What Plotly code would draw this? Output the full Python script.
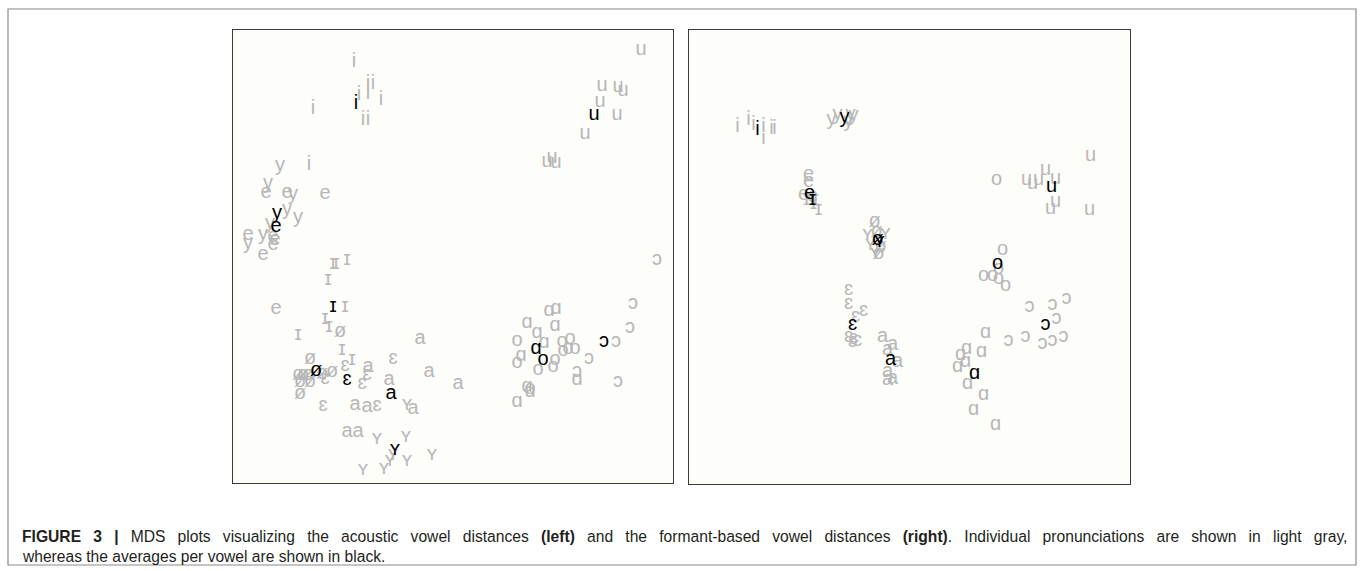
import plotly.graph_objects as go

W, H = 1360, 571

# ---------------- Left panel: acoustic vowel distances (MDS) ----------------
left_labels = (["i"] * 10 + ["u"] * 10 + ["y"] * 8 + ["e"] * 9 + ["ɪ"] * 10 +
               ["ø"] * 10 + ["ɛ"] * 7 + ["a"] * 10 + ["ʏ"] * 9 + ["ɑ"] * 11 +
               ["o"] * 11 + ["ɔ"] * 7)
left_x = [-0.99, -0.85, -0.80, -0.94, -0.85, -0.72, -1.40, -0.90, -0.85, -1.44,
          1.88, 1.49, 1.65, 1.70, 1.47, 1.64, 1.32, 0.94, 0.99, 1.03,
          -1.73, -1.85, -1.60, -1.66, -1.55, -1.90, -2.05, -1.83,
          -1.87, -1.66, -1.28, -2.05, -1.80, -1.78, -1.80, -1.90, -1.77,
          -1.20, -1.17, -1.06, -1.25, -1.08, -1.28, -1.24, -1.55, -1.11, -1.01,
          -1.13, -1.43, -1.55, -1.50, -1.45, -1.53, -1.43, -1.53, -1.21, -1.31,
          -0.60, -1.28, -1.08, -0.86, -0.91, -1.30, -0.76,
          -0.33, -0.85, -0.64, -0.24, 0.05, -0.98, -0.86, -0.40, -1.06, -0.95,
          -0.46, -0.76, -0.47, -0.60, -0.46, -0.21, -0.90, -0.69, -0.63,
          0.96, 1.03, 0.74, 1.02, 0.84, 0.91, 0.68, 1.24, 0.74, 0.77, 0.64,
          0.64, 1.09, 1.17, 1.10, 1.15, 1.22, 0.64, 1.02, 1.00, 0.85, 0.77,
          2.04, 1.80, 1.77, 1.63, 1.36, 1.24, 1.65]
left_y = [1.96, 1.74, 1.74, 1.63, 1.64, 1.58, 1.49, 1.38, 1.38, 0.93,
          2.08, 1.72, 1.71, 1.67, 1.56, 1.43, 1.24, 0.96, 1.00, 0.95,
          0.92, 0.74, 0.63, 0.48, 0.40, 0.23, 0.14, 0.34,
          0.65, 0.65, 0.64, 0.23, 0.21, 0.18, 0.13, 0.03, -0.51,
          -0.06, -0.06, -0.02, -0.22, -0.49, -0.61, -0.69, -0.77, -0.92, -1.02,
          -0.74, -1.01, -1.17, -1.17, -1.17, -1.24, -1.24, -1.36, -1.14, -1.16,
          -1.01, -1.21, -1.08, -1.17, -1.26, -1.48, -1.48,
          -0.81, -1.09, -1.22, -1.14, -1.26, -1.47, -1.49, -1.51, -1.74, -1.74,
          -1.47, -1.81, -1.79, -1.97, -2.03, -1.97, -2.12, -2.11, -2.03,
          -0.53, -0.51, -0.65, -0.68, -0.75, -0.85, -0.98, -1.22, -1.29, -1.34, -1.44,
          -0.83, -0.84, -0.81, -0.93, -0.91, -0.91, -1.05, -1.02, -1.09, -1.12, -1.31,
          -0.02, -0.46, -0.70, -0.84, -1.01, -1.14, -1.24]

left_mean_labels = ["i", "u", "y", "e", "ɪ", "ø", "ɛ", "a", "ʏ", "ɑ", "o", "ɔ"]
left_mean_x = [-0.97, 1.41, -1.76, -1.77, -1.20, -1.37, -1.06, -0.62, -0.58, 0.83, 0.90, 1.51]
left_mean_y = [1.54, 1.43, 0.44, 0.31, -0.49, -1.13, -1.22, -1.36, -1.92, -0.91, -1.02, -0.84]

# ---------------- Right panel: formant-based vowel distances (MDS) ----------------
right_labels = (["i"] * 7 + ["y"] * 5 + ["e"] * 4 + ["ɪ"] * 4 + ["ø"] * 4 +
                ["ʏ"] * 4 + ["u"] * 9 + ["o"] * 7 + ["ɔ"] * 9 + ["ɑ"] * 10 +
                ["ɛ"] * 8 + ["a"] * 7)
right_x = [-1.72, -1.61, -1.56, -1.46, -1.46, -1.38, -1.35,
           -0.78, -0.72, -0.59, -0.56, -0.61,
           -1.01, -1.01, -1.06, -0.97,
           -0.94, -0.91, -0.96, -1.03,
           -0.35, -0.29, -0.33, -0.31,
           -0.42, -0.24, -0.34, -0.39,
           1.81, 1.17, 1.23, 1.29, 1.36, 1.46, 1.46, 1.41, 1.80,
           0.87, 0.93, 0.89, 0.74, 0.83, 0.89, 0.96,
           1.20, 1.43, 1.57, 1.47, 0.99, 1.16, 1.33, 1.43, 1.54,
           0.76, 0.57, 0.72, 0.51, 0.56, 0.48, 0.58, 0.74, 0.64, 0.86,
           -0.61, -0.61, -0.46, -0.54, -0.61, -0.56, -0.57, -0.52,
           -0.27, -0.17, -0.22, -0.12, -0.22, -0.17, -0.22]
right_y = [1.32, 1.39, 1.34, 1.32, 1.20, 1.30, 1.30,
           1.39, 1.44, 1.44, 1.43, 1.37,
           0.84, 0.77, 0.64, 0.62,
           0.59, 0.49, 0.55, 0.59,
           0.37, 0.12, 0.27, 0.05,
           0.24, 0.25, 0.05, 0.14,
           1.03, 0.79, 0.75, 0.79, 0.89, 0.80, 0.57, 0.50, 0.49,
           0.79, 0.09, -0.10, -0.17, -0.17, -0.20, -0.27,
           -0.48, -0.46, -0.40, -0.60, -0.82, -0.78, -0.85, -0.82, -0.78,
           -0.74, -0.90, -0.93, -0.96, -1.03, -1.08, -1.25, -1.36, -1.51, -1.66,
           -0.31, -0.45, -0.52, -0.58, -0.78, -0.80, -0.83, -0.82,
           -0.78, -0.86, -0.91, -1.03, -1.13, -1.20, -1.21]

right_mean_labels = ["i", "y", "e", "ɪ", "ø", "ʏ", "u", "o", "ɔ", "ɑ", "ɛ", "a"]
right_mean_x = [-1.52, -0.65, -1.00, -0.97, -0.32, -0.30, 1.42, 0.88, 1.36, 0.65, -0.57, -0.19]
right_mean_y = [1.29, 1.41, 0.65, 0.59, 0.19, 0.17, 0.72, -0.05, -0.66, -1.15, -0.66, -1.01]

caption_line1_words = ["<b>FIGURE</b>", "<b>3</b>", "<b>|</b>", "MDS", "plots", "visualizing",
                       "the", "acoustic", "vowel", "distances", "<b>(left)</b>", "and", "the",
                       "formant-based", "vowel", "distances", "<b>(right)</b>.", "Individual",
                       "pronunciations", "are", "shown", "in", "light", "gray,"]
caption_line2 = "whereas the averages per vowel are shown in black."

GRAY = "#b7b7b7"
FONT = "Liberation Sans"
FS = 20

fig = go.Figure()

def add_panel(xs, ys, labels, mx, my, mlabels, xa, ya):
    fig.add_trace(go.Scatter(x=xs, y=ys, text=labels, mode="text",
                             textposition="middle center",
                             textfont=dict(family=FONT, size=FS, color=GRAY),
                             xaxis=xa, yaxis=ya, hoverinfo="skip", showlegend=False))
    fig.add_trace(go.Scatter(x=mx, y=my, text=mlabels, mode="text",
                             textposition="middle center",
                             textfont=dict(family=FONT, size=FS, color="#000000"),
                             xaxis=xa, yaxis=ya, hoverinfo="skip", showlegend=False))

add_panel(left_x, left_y, left_labels, left_mean_x, left_mean_y, left_mean_labels, "x", "y")
add_panel(right_x, right_y, right_labels, right_mean_x, right_mean_y, right_mean_labels, "x2", "y2")

ax_common = dict(showgrid=False, zeroline=False, showticklabels=False, ticks="",
                 showline=True, mirror=True, linecolor="#3a3a3a", linewidth=1.2,
                 fixedrange=True)

fig.update_layout(
    width=W, height=H,
    margin=dict(l=0, r=0, t=0, b=0),
    paper_bgcolor="white",
    plot_bgcolor="#fdfdf9",
    xaxis=dict(domain=[233 / W, 673 / W], range=[-2.20, 2.20], **ax_common),
    yaxis=dict(domain=[1 - 483 / H, 1 - 30 / H], range=[-2.25, 2.28], **ax_common),
    xaxis2=dict(domain=[689 / W, 1130 / W], range=[-2.205, 2.205], anchor="y2", **ax_common),
    yaxis2=dict(domain=[1 - 484 / H, 1 - 30 / H], range=[-2.25, 2.29], anchor="x2", **ax_common),
)

# outer frame around the whole figure
fig.add_shape(type="rect", xref="paper", yref="paper",
              x0=8 / W, x1=1356 / W, y0=1 - 565 / H, y1=1 - 9 / H,
              line=dict(color="#8a8a8a", width=1.2), fillcolor="rgba(0,0,0,0)", layer="below")

# caption: first line justified (widened word gaps), second line ragged
JUSTIFY_GAP = "\u2002 "
caption_line1 = JUSTIFY_GAP.join(caption_line1_words)
for txt, ypx, fs in [(caption_line1, 536, 15.65), (caption_line2, 556, 15.6)]:
    fig.add_annotation(text=txt, xref="paper", yref="paper", x=20 / W, y=1 - ypx / H,
                       xanchor="left", yanchor="middle", showarrow=False, align="left",
                       font=dict(family="Liberation Sans", size=fs, color="#231f20"))

fig.write_html("out.html", config={"displayModeBar": False, "staticPlot": True},
               post_script="document.body.style.margin='0px';")
